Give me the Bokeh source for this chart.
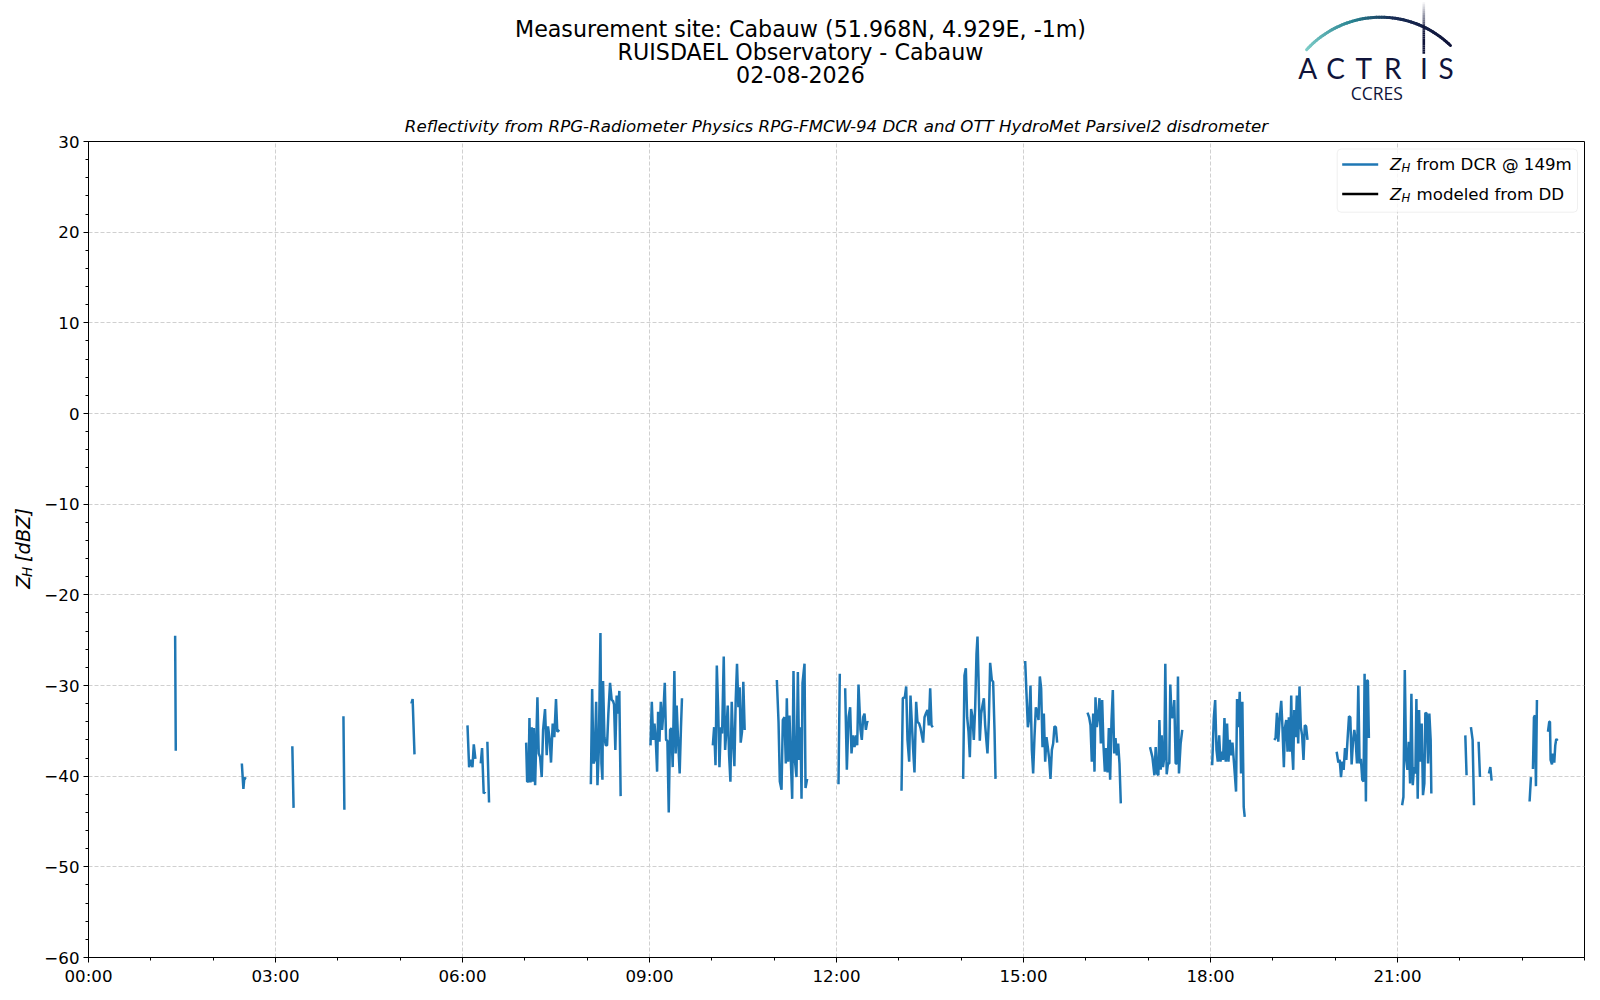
import numpy as np
from bokeh.plotting import figure
from bokeh.layouts import column, row
from bokeh.models import Range1d, FixedTicker, BoxAnnotation
from bokeh.core.properties import value
from bokeh.embed import file_html
from bokeh.resources import INLINE

# ---------------- data (hours UTC, dBZ); None = gap ----------------
T01 = [1.39, 1.40]
Z01 = [-24.5, -37.2]
T02 = [2.46, 2.485, 2.50, 2.53]
Z02 = [-38.6, -41.4, -40.2, -40.3]
T03 = [3.27, 3.29]
Z03 = [-36.7, -43.5]
T04 = [4.09, 4.105]
Z04 = [-33.4, -43.7]
T05 = [5.18, 5.20, 5.23]
Z05 = [-32.0, -31.5, -37.6]
T06 = [6.080, 6.106, 6.133, 6.160, 6.181, 6.207, None, 6.293, 6.314, 6.340, 6.367, None, 6.399, 6.426]
Z06 = [-34.4, -39.0, -38.2, -39.0, -36.5, -38.1, None, -38.6, -36.9, -41.9, -41.7, None, -36.2, -42.9]
T07 = [7.021, 7.037, 7.059, 7.074, 7.090, 7.112, 7.128, 7.144, 7.165, 7.181, 7.202, 7.223, 7.245,
       7.271, 7.293, 7.324, 7.351, 7.372, 7.399, 7.420, 7.447, 7.473, 7.500, 7.521, 7.553]
Z07 = [-36.3, -40.6, -40.6, -33.6, -40.7, -34.6, -40.6, -34.7, -41.0, -36.8, -31.3, -37.5, -37.9,
       -40.1, -34.9, -32.6, -37.7, -34.5, -36.0, -38.5, -34.2, -35.7, -31.5, -35.1, -34.9]
T08 = [8.059, 8.080, 8.101, 8.122, 8.144, 8.165, 8.186, 8.213, 8.229, 8.245, 8.255, 8.277,
       8.298, 8.319, 8.340, 8.367, 8.394, 8.415, 8.431, 8.452, 8.473, 8.495, 8.516, 8.537]
Z08 = [-40.9, -30.4, -38.6, -38.2, -31.8, -41.0, -37.3, -24.2, -38.6, -40.4, -29.5, -35.7,
       -36.6, -36.6, -33.1, -29.7, -31.6, -31.7, -32.1, -37.1, -31.1, -33.1, -30.6, -42.2]
T09 = [9.016, 9.037, 9.059, 9.080, 9.101, 9.122, 9.138, 9.160, 9.181, 9.202, 9.223, 9.245, 9.266,
       9.287, 9.309, 9.330, 9.351, 9.372, 9.399, 9.420, 9.436, 9.457, 9.484, 9.505, 9.521]
Z09 = [-36.6, -31.8, -36.0, -34.2, -36.0, -39.5, -32.9, -36.2, -31.8, -34.9, -32.9, -29.7, -36.0,
       -36.1, -44.0, -34.9, -34.7, -39.0, -28.4, -37.5, -32.2, -35.7, -39.7, -34.6, -31.4]
T10 = [10.016, 10.037, 10.059, 10.080, 10.101, 10.122, 10.144, 10.165, 10.191, 10.213, 10.234,
       10.255, 10.277, 10.298, 10.319, 10.340, 10.362, 10.383, 10.404, 10.426, 10.447, 10.463,
       10.484, 10.505, 10.527]
Z10 = [-36.6, -34.6, -38.8, -27.8, -32.4, -39.0, -34.6, -35.3, -26.8, -37.1, -34.9,
       -32.2, -37.7, -40.6, -31.8, -36.0, -38.9, -31.6, -27.6, -32.4, -30.2, -36.3,
       -35.1, -29.6, -34.9]
T11 = [11.043, 11.070, 11.091, 11.118, 11.139, 11.166, 11.187, 11.203, 11.225, 11.246, 11.267,
       11.289, 11.310, 11.332, 11.358, 11.380, 11.401, 11.422, 11.439, 11.455, 11.487, 11.503, 11.529]
Z11 = [-29.4, -34.0, -40.6, -41.5, -33.8, -33.5, -38.6, -31.4, -38.4, -33.3, -38.2,
       -42.5, -28.4, -38.2, -40.1, -28.5, -38.2, -34.6, -42.5, -29.7, -27.6, -41.3, -40.3]
T12 = [12.032, 12.053, None, 12.139, 12.166, 12.193, 12.219, 12.241, 12.262, 12.289, 12.310,
       12.332, 12.353, 12.385, 12.406, 12.428, 12.449, 12.471, 12.492, 12.508]
Z12 = [-40.9, -28.7, None, -30.3, -39.3, -33.5, -32.4, -37.5, -35.5, -36.8, -35.5,
       -36.6, -29.9, -34.9, -36.0, -33.5, -33.1, -34.9, -34.0, -34.1]
T13 = [13.043, 13.064, 13.096, 13.118, 13.139, 13.166, 13.187, 13.209, 13.230, 13.251, 13.278,
       13.299, 13.326, 13.348, 13.369, 13.390, 13.412, 13.433, 13.460, 13.481, 13.503, 13.524, 13.545]
Z13 = [-41.6, -31.4, -31.3, -30.1, -36.0, -38.4, -31.1, -34.2, -37.1, -39.6, -31.8,
       -34.0, -34.2, -34.7, -35.5, -36.3, -33.5, -33.1, -32.7, -34.4, -30.3, -34.4, -34.6]
T14 = [14.032, 14.053, 14.075, 14.096, 14.118, 14.139, 14.160, 14.182, 14.203, 14.225, 14.246,
       14.262, 14.278, 14.299, 14.321, 14.342, 14.364, 14.385, 14.406, 14.422, 14.444, 14.465,
       14.492, 14.513, 14.535, 14.551]
Z14 = [-40.3, -28.9, -28.1, -33.5, -35.1, -37.9, -32.6, -33.5, -36.0, -32.4, -26.5,
       -24.6, -29.0, -36.1, -33.1, -32.2, -31.4, -34.4, -36.2, -37.5, -33.8, -27.5,
       -29.4, -29.6, -34.9, -40.3]
T15 = [15.027, 15.048, 15.070, 15.091, 15.112, 15.134, 15.155, 15.176, 15.198, 15.219, 15.241,
       15.262, 15.283, 15.305, 15.326, 15.348, 15.369, 15.390, 15.412, 15.433, 15.455, 15.476,
       15.497, 15.519, 15.540]
Z15 = [-27.3, -30.9, -34.6, -33.6, -30.0, -37.1, -39.7, -35.7, -32.4, -32.9, -33.8,
       -29.0, -30.3, -36.8, -33.1, -38.4, -35.7, -36.8, -38.1, -40.3, -37.1, -36.4,
       -34.5, -34.6, -36.3]
T16 = [16.027, 16.053, 16.075, 16.096, 16.118, 16.139, 16.155, 16.176, 16.198, 16.219, 16.241,
       16.262, 16.283, 16.305, 16.326, 16.348, 16.369, 16.390, 16.412, 16.433, 16.455, 16.476,
       16.497, 16.519, 16.540, 16.561]
Z16 = [-33.0, -33.5, -34.4, -38.4, -33.1, -39.5, -31.3, -34.6, -33.4, -31.4, -36.4,
       -31.6, -36.6, -39.5, -36.9, -39.6, -34.7, -40.4, -33.8, -30.5, -37.5, -35.8,
       -37.7, -36.4, -38.6, -43.0]
T17 = [17.030, 17.068, 17.100, 17.121, 17.142, 17.164, 17.180, 17.201, 17.217, 17.238, 17.259,
       17.275, 17.297, 17.318, 17.339, 17.355, 17.376, 17.398, 17.419, 17.441, 17.462, 17.478,
       17.494, 17.521, 17.547]
Z17 = [-36.8, -37.9, -39.9, -36.8, -39.7, -39.9, -33.8, -39.3, -35.5, -39.0, -37.9,
       -27.6, -39.8, -38.6, -38.6, -29.9, -33.5, -33.5, -31.6, -38.6, -38.6, -29.0,
       -39.7, -36.4, -34.9]
T18 = [18.027, 18.053, 18.075, 18.096, 18.117, 18.139, 18.160, 18.181, 18.202, 18.224, 18.245,
       18.266, 18.288, 18.309, 18.330, 18.352, 18.368, 18.389, 18.410, 18.426, 18.448, 18.469,
       18.490, 18.511, 18.533, 18.549]
Z18 = [-38.8, -33.6, -31.6, -37.1, -38.4, -35.5, -38.4, -37.3, -38.2, -33.6, -38.4,
       -34.2, -38.4, -36.0, -37.7, -36.3, -37.7, -39.7, -41.7, -31.5, -34.6, -30.7,
       -39.7, -31.8, -43.4, -44.5]
T19 = [19.023, 19.044, 19.066, 19.087, 19.108, 19.135, 19.156, 19.177, 19.193, 19.215, 19.236,
       19.257, 19.279, 19.295, 19.311, 19.327, 19.343, 19.364, 19.385, 19.407, 19.428, 19.449,
       19.470, 19.492, 19.513, 19.534, 19.556]
Z19 = [-36.0, -35.8, -33.0, -36.2, -33.8, -31.7, -34.9, -39.0, -34.7, -33.8, -37.3,
       -33.5, -37.3, -31.1, -37.3, -39.3, -32.7, -35.7, -31.1, -36.4, -30.1, -34.6,
       -35.5, -38.2, -34.4, -34.5, -36.0]
T20 = [20.024, 20.051, 20.072, 20.094, 20.115, 20.136, 20.158, 20.179, 20.200, 20.222, 20.243,
       20.264, 20.286, 20.307, 20.328, 20.350, 20.371, 20.392, 20.413, 20.435, 20.456, 20.472,
       20.493, 20.509, 20.525, 20.541]
Z20 = [-37.3, -38.5, -38.2, -40.1, -38.4, -39.3, -36.9, -38.2, -35.8, -33.4, -33.5,
       -38.7, -36.2, -34.9, -36.0, -38.6, -30.0, -38.6, -38.1, -40.4, -40.6, -28.7,
       -42.8, -29.4, -29.5, -35.8]
T21 = [21.074, 21.095, 21.117, 21.138, 21.159, 21.181, 21.202, 21.223, 21.245, 21.266, 21.287,
       21.303, 21.324, 21.346, 21.367, 21.388, 21.409, 21.431, 21.447, 21.468, 21.490, 21.511,
       21.532, 21.543]
Z21 = [-43.2, -42.3, -28.3, -38.1, -39.3, -36.2, -40.8, -30.9, -41.0, -39.0, -39.7,
       -31.5, -42.5, -32.7, -38.4, -34.2, -42.1, -40.8, -33.0, -33.1, -38.6, -33.1,
       -36.0, -41.9]
T22 = [22.088, 22.108, None, 22.178, 22.205, 22.227, None, 22.301, 22.323, None, 22.467, 22.489, 22.510]
Z22 = [-35.5, -39.9, None, -34.6, -36.0, -43.2, None, -36.2, -40.1, None, -39.7, -39.0, -40.5]
T23 = [23.119, 23.141, None, 23.173, 23.189, 23.205, 23.221, 23.237, None, 23.414, 23.435,
       23.446, 23.456, 23.478, 23.494, 23.515, 23.531, 23.547, 23.568]
Z23 = [-42.8, -40.1, None, -39.2, -33.5, -33.3, -41.1, -31.6, None, -35.1, -34.0,
       -34.0, -38.2, -38.7, -37.5, -38.5, -36.6, -35.9, -36.1]

# modeled from disdrometer: no valid values on this day
DD_T = []
DD_Z = []

X_TICKS = [0, 3, 6, 9, 12, 15, 18, 21]
X_LABELS = ["00:00", "03:00", "06:00", "09:00", "12:00", "15:00", "18:00", "21:00"]
X_MINOR = list(range(0, 25))
Y_TICKS = [-60, -50, -40, -30, -20, -10, 0, 10, 20, 30]
Y_LABELS = ["\u221260", "\u221250", "\u221240", "\u221230", "\u221220", "\u221210", "0", "10", "20", "30"]
Y_MINOR = list(range(-60, 31, 2))

TITLE_LINES = ["Measurement site: Cabauw (51.968N, 4.929E, -1m)",
               "RUISDAEL Observatory - Cabauw",
               "02-08-2026"]
SUBTITLE = "Reflectivity from RPG-Radiometer Physics RPG-FMCW-94 DCR and OTT HydroMet Parsivel2 disdrometer"
LEG_LABELS = ["from DCR @ 149m", "modeled from DD"]
LEG_COLORS = ["#1f77b4", "black"]

BURSTS_T = [T01, T02, T03, T04, T05, T06, T07, T08, T09, T10, T11, T12,
            T13, T14, T15, T16, T17, T18, T19, T20, T21, T22, T23]
BURSTS_Z = [Z01, Z02, Z03, Z04, Z05, Z06, Z07, Z08, Z09, Z10, Z11, Z12,
            Z13, Z14, Z15, Z16, Z17, Z18, Z19, Z20, Z21, Z22, Z23]

t_all, z_all = [], []
for bt, bz in zip(BURSTS_T, BURSTS_Z):
    t_all += [np.nan if v is None else v for v in bt] + [np.nan]
    z_all += [np.nan if v is None else v for v in bz] + [np.nan]

FONT = "DejaVu Sans"

# ---------------- layout geometry (window px, page content starts at 0,0) ----------------
HEAD_H = 108            # header: window y 0..108
STRIP_W = 40            # y-label strip: window x 0..40
FR_L, FR_R, FR_T, FR_B = 88.0, 1584.0, 141.0, 957.0
MB_LEFT = int(FR_L - STRIP_W)
MB_RIGHT = 8
MAIN_W = MB_LEFT + int(FR_R - FR_L) + MB_RIGHT
MB_TOP = int(FR_T - HEAD_H)
MB_BOT = 34
MAIN_H = MB_TOP + int(FR_B - FR_T) + MB_BOT

# ---------------- header ----------------
head = figure(width=STRIP_W + MAIN_W, height=HEAD_H, x_range=Range1d(0, STRIP_W + MAIN_W),
              y_range=Range1d(0, HEAD_H), output_backend="svg", toolbar_location=None,
              x_axis_type=None, y_axis_type=None, min_border=0, outline_line_color=None)
head.grid.visible = False
hx = lambda xw: xw
hy = lambda yw: HEAD_H - yw

head.text(x=[hx(800)] * 3, y=[hy(28.0), hy(51.4), hy(74.0)], text=TITLE_LINES,
          text_font=value(FONT), text_font_size="22.2px", text_align="center",
          text_baseline="middle", text_color="black")

# ACTRIS logo
navy = "#10143a"
cx, cy, r = 1380.1, 117.1, 100.4
ang = np.radians(np.linspace(137.5, 45.9, 60))
ax_ = cx + r * np.cos(ang)
ay_ = cy - r * np.sin(ang)
stops_t = [0.0, 0.35, 0.6, 1.0]
stops_c = [(125, 205, 200), (40, 130, 145), (25, 45, 85), (16, 20, 58)]
cols = []
for i in range(len(ang) - 1):
    tt = i / (len(ang) - 2)
    rgb = [int(np.interp(tt, stops_t, [c[k] for c in stops_c])) for k in range(3)]
    cols.append("#%02x%02x%02x" % tuple(rgb))
head.segment(x0=[hx(v) for v in ax_[:-1]], y0=[hy(v) for v in ay_[:-1]],
             x1=[hx(v) for v in ax_[1:]], y1=[hy(v) for v in ay_[1:]],
             line_color=cols, line_width=3, line_cap="round")
vy_ = np.linspace(1.7, 53.3, 25)
head.segment(x0=[hx(1423.3)] * 24, y0=[hy(v) for v in vy_[:-1]],
             x1=[hx(1423.3)] * 24, y1=[hy(v) for v in vy_[1:]],
             line_color=navy, line_width=2.6, line_alpha=list(np.clip(np.linspace(0.05, 1.6, 24), 0, 1)))
head.text(x=[hx(v) for v in [1307.2, 1335.0, 1363.3, 1392.3, 1423.3, 1445.7]], y=[hy(67.0)] * 6,
          text=list("ACTRIS"), text_font=value("Lato"), text_font_size="28px",
          text_align="center", text_baseline="middle", text_color=navy)
head.text(x=[hx(1376.3)], y=[hy(92.5)], text=["CCRES"], text_font=value("Open Sans"),
          text_font_size="17.5px", text_align="center", text_baseline="middle", text_color=navy)

# ---------------- y-label strip ----------------
strip = figure(width=STRIP_W, height=MAIN_H, x_range=Range1d(0, STRIP_W), y_range=Range1d(0, MAIN_H),
               output_backend="svg", toolbar_location=None, x_axis_type=None, y_axis_type=None,
               min_border=0, outline_line_color=None)
strip.grid.visible = False
sx = lambda xw: xw
sy = lambda yw: HEAD_H + MAIN_H - yw
strip.text(x=[sx(22.5), sx(22.5)], y=[sy(592), sy(563)], text=["Z", "[dBZ]"], angle=np.pi / 2,
           text_font=value(FONT), text_font_style="italic", text_font_size="19.4px",
           text_align="left", text_baseline="middle", text_color="black")
strip.text(x=[sx(26.0)], y=[sy(579.3)], text=["H"], angle=np.pi / 2,
           text_font=value(FONT), text_font_style="italic", text_font_size="13.6px",
           text_align="left", text_baseline="middle", text_color="black")

# ---------------- main plot ----------------
p = figure(width=MAIN_W, height=MAIN_H, x_range=Range1d(0, 24), y_range=Range1d(-60, 30),
           output_backend="svg", toolbar_location=None, title=SUBTITLE,
           min_border_left=MB_LEFT, min_border_right=MB_RIGHT,
           min_border_top=MB_TOP, min_border_bottom=MB_BOT)
p.title.align = "center"
p.title.text_font = FONT
p.title.text_font_style = "italic"
p.title.text_font_size = "16.67px"
p.title.text_color = "black"
p.title.standoff = 12

p.outline_line_color = "black"
p.outline_line_width = 1
p.outline_line_alpha = 1

p.xaxis.ticker = FixedTicker(ticks=X_TICKS, minor_ticks=X_MINOR)
p.xaxis.major_label_overrides = dict(zip(X_TICKS, X_LABELS))
p.yaxis.ticker = FixedTicker(ticks=Y_TICKS, minor_ticks=Y_MINOR)
p.yaxis.major_label_overrides = dict(zip(Y_TICKS, Y_LABELS))
for ax in (p.xaxis, p.yaxis):
    ax.axis_line_color = "black"
    ax.major_tick_line_color = "black"
    ax.minor_tick_line_color = "black"
    ax.major_tick_out = 5
    ax.major_tick_in = 0
    ax.minor_tick_out = 3
    ax.minor_tick_in = 0
    ax.major_label_text_font = FONT
    ax.major_label_text_font_size = "16.67px"
    ax.major_label_text_color = "black"
    ax.major_label_standoff = 4
p.xgrid.ticker = FixedTicker(ticks=X_TICKS)
p.ygrid.ticker = FixedTicker(ticks=Y_TICKS)
for g in (p.xgrid, p.ygrid):
    g.grid_line_color = "#d0d0d0"
    g.grid_line_dash = "4 2"
    g.grid_line_width = 1

p.line(t_all, z_all, line_color=LEG_COLORS[0], line_width=2.5)
p.line(DD_T, DD_Z, line_color=LEG_COLORS[1], line_width=2.5)

# custom legend (pixel positions -> data coordinates)
px2h = lambda xw: (xw - FR_L) / (FR_R - FR_L) * 24.0
px2v = lambda yw: 30.0 - (yw - FR_T) / (FR_B - FR_T) * 90.0
box = BoxAnnotation(left=px2h(1336.7), right=px2h(1577.0), top=px2v(148.5), bottom=px2v(211.7),
                    fill_color="white", fill_alpha=0.8, line_color="#cccccc", line_width=1,
                    border_radius=4)
p.add_layout(box)
rows_y = [164.0, 193.5]
for i in range(2):
    p.line([px2h(1341.7), px2h(1377.7)], [px2v(rows_y[i])] * 2, line_color=LEG_COLORS[i],
           line_width=2.5, level="overlay")
p.text(x=[px2h(1389.5)] * 2, y=[px2v(c) for c in rows_y], text=["Z", "Z"],
       text_font=value(FONT), text_font_style="italic", text_font_size="16.67px",
       text_align="left", text_baseline="middle", text_color="black", level="overlay")
p.text(x=[px2h(1401.0)] * 2, y=[px2v(c + 3.5) for c in rows_y], text=["H", "H"],
       text_font=value(FONT), text_font_style="italic", text_font_size="11.7px",
       text_align="left", text_baseline="middle", text_color="black", level="overlay")
p.text(x=[px2h(1416.0)] * 2, y=[px2v(c) for c in rows_y], text=LEG_LABELS,
       text_font=value(FONT), text_font_size="16.67px",
       text_align="left", text_baseline="middle", text_color="black", level="overlay")

layout = column(head, row(strip, p))
open("out.html", "w").write(file_html(layout, INLINE))
